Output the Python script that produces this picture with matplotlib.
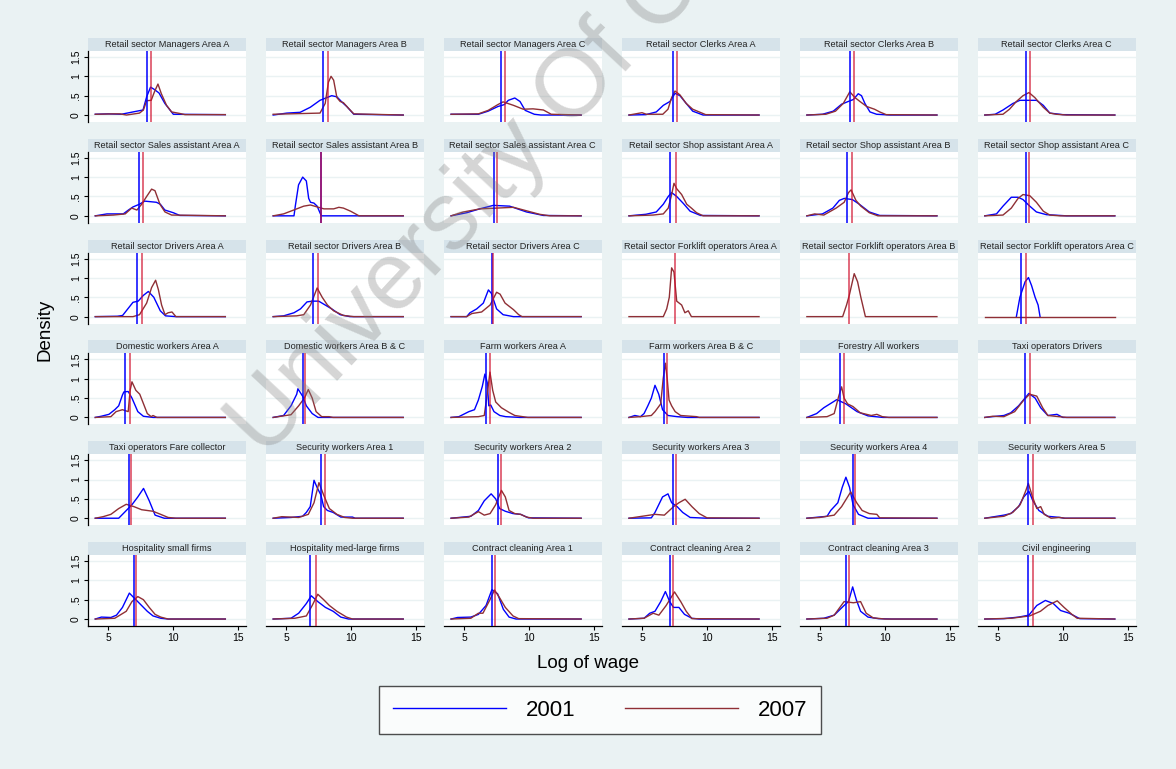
import matplotlib
matplotlib.use("Agg")
import matplotlib.pyplot as plt
from matplotlib.patches import Rectangle
from matplotlib.lines import Line2D

plt.rcParams['font.family'] = ['Liberation Sans', 'DejaVu Sans']

titles = [
    "Retail sector Managers Area A", "Retail sector Managers Area B", "Retail sector Managers Area C",
    "Retail sector Clerks Area A", "Retail sector Clerks Area B", "Retail sector Clerks Area C",
    "Retail sector Sales assistant Area A", "Retail sector Sales assistant Area B",
    "Retail sector Sales assistant Area C", "Retail sector Shop assistant Area A",
    "Retail sector Shop assistant Area B", "Retail sector Shop assistant Area C",
    "Retail sector Drivers Area A", "Retail sector Drivers Area B", "Retail sector Drivers Area C",
    "Retail sector Forklift operators Area A", "Retail sector Forklift operators Area B",
    "Retail sector Forklift operators Area C",
    "Domestic workers Area A", "Domestic workers Area B & C", "Farm workers Area A",
    "Farm workers Area B & C", "Forestry All workers", "Taxi operators Drivers",
    "Taxi operators Fare collector", "Security workers Area 1", "Security workers Area 2",
    "Security workers Area 3", "Security workers Area 4", "Security workers Area 5",
    "Hospitality small firms", "Hospitality med-large firms", "Contract cleaning Area 1",
    "Contract cleaning Area 2", "Contract cleaning Area 3", "Civil engineering",
]

# mean log wage lines (None = no line)
mean_2001 = [8.0, 7.82, 7.82, 7.41, 7.31, 7.2,
             7.38, 7.67, 7.33, 7.18, 7.05, 7.2,
             7.18, 7.1, 7.13, None, None, 6.82,
             6.32, 6.26, 6.69, 6.71, 6.58, 7.08,
             6.62, 7.64, 7.58, 7.36, 7.58, 7.34,
             6.97, 6.84, 7.14, 7.14, 7.0, 7.34]
mean_2007 = [8.25, 8.18, 8.18, 7.67, 7.62, 7.5,
             7.69, 7.67, 7.56, 7.59, 7.44, 7.4,
             7.57, 7.44, 7.25, 7.54, 7.23, 7.15,
             6.68, 6.46, 6.99, 6.94, 6.87, 7.45,
             6.77, 8.02, 7.81, 7.64, 7.72, 7.68,
             7.12, 7.28, 7.37, 7.42, 7.24, 7.68]

# kernel density curves, (log wage, density)
dens_2001 = [
    [(4, 0.02), (5, 0.03), (6, 0.02), (6.9, 0.08), (7.67, 0.13), (7.95, 0.47), (8.25, 0.72), (8.5, 0.67), (8.9, 0.57), (9.35, 0.3), (10, 0.02), (14, 0.01)],
    [(4, 0), (5.05, 0.05), (6.07, 0.07), (6.85, 0.2), (7.6, 0.38), (8.5, 0.5), (8.9, 0.47), (9.3, 0.33), (9.66, 0.22), (10.2, 0.02), (14, 0)],
    [(4, 0.02), (6.1, 0.02), (6.85, 0.1), (7.6, 0.22), (8.1, 0.27), (8.4, 0.38), (8.9, 0.44), (9.3, 0.35), (9.7, 0.12), (10.4, 0.02), (10.9, 0), (14, 0)],
    [(4, 0), (5.3, 0.01), (6.1, 0.08), (6.64, 0.25), (7.15, 0.35), (7.54, 0.56), (7.92, 0.5), (8.4, 0.3), (8.9, 0.1), (9.7, 0), (14, 0)],
    [(4, 0), (5.2, 0.02), (6.03, 0.1), (6.67, 0.28), (7.18, 0.35), (7.57, 0.4), (7.95, 0.55), (8.2, 0.5), (8.46, 0.3), (8.85, 0.08), (9.36, 0.02), (10.4, 0), (14, 0)],
    [(4, 0), (4.8, 0.02), (5.4, 0.13), (6.17, 0.3), (6.7, 0.38), (7.98, 0.38), (8.5, 0.25), (9, 0.05), (10, 0.01), (14, 0)],
    [(4, 0), (4.9, 0.05), (6.15, 0.05), (6.55, 0.15), (6.9, 0.23), (7.4, 0.3), (7.8, 0.38), (8.7, 0.35), (9, 0.3), (9.35, 0.15), (10, 0.08), (10.5, 0.01), (14, 0)],
    [(4, 0), (5.6, 0), (5.7, 0.25), (5.95, 0.8), (6.27, 1.0), (6.55, 0.9), (6.73, 0.45), (6.87, 0.35), (7.13, 0.33), (7.38, 0.25), (7.7, 0), (14, 0)],
    [(4, 0), (5.2, 0.08), (6.2, 0.18), (7.25, 0.27), (8.5, 0.25), (9.8, 0.1), (11.1, 0.01), (14, 0)],
    [(4, 0), (5.3, 0.04), (6.1, 0.1), (6.64, 0.3), (7.02, 0.5), (7.28, 0.6), (7.67, 0.5), (8.18, 0.32), (8.7, 0.12), (9.5, 0.01), (14, 0)],
    [(4, 0), (5.2, 0.05), (6, 0.2), (6.5, 0.4), (6.87, 0.45), (7.5, 0.42), (8.03, 0.3), (8.8, 0.1), (9.6, 0.01), (14, 0)],
    [(4, 0), (4.9, 0.05), (5.4, 0.25), (6.04, 0.48), (6.56, 0.48), (6.94, 0.42), (7.46, 0.25), (7.97, 0.1), (8.74, 0.03), (10.3, 0), (14, 0)],
    [(4, 0), (5.7, 0.01), (6.1, 0.03), (6.5, 0.2), (6.9, 0.37), (7.3, 0.4), (7.7, 0.55), (8.08, 0.65), (8.5, 0.5), (9, 0.15), (9.4, 0.02), (10.2, 0), (14, 0)],
    [(4, 0), (4.8, 0.02), (5.6, 0.1), (6.1, 0.2), (6.6, 0.38), (7, 0.4), (7.5, 0.4), (8, 0.3), (8.5, 0.2), (9.15, 0.05), (9.9, 0), (14, 0)],
    [(4, 0), (5.2, 0), (5.45, 0.1), (5.97, 0.2), (6.48, 0.35), (6.87, 0.69), (7.1, 0.6), (7.5, 0.2), (8, 0.05), (8.8, 0), (14, 0)],
    None,
    None,
    [(6.43, 0), (6.7, 0.5), (7.1, 0.9), (7.36, 1.01), (7.6, 0.8), (7.87, 0.5), (8.1, 0.3), (8.25, 0)],
    [(4, 0), (4.45, 0.03), (5.05, 0.08), (5.5, 0.2), (5.8, 0.3), (6.09, 0.58), (6.2, 0.66), (6.53, 0.67), (6.82, 0.5), (7.27, 0.15), (7.7, 0.03), (8.45, 0), (14, 0)],
    [(4, 0), (4.8, 0.05), (5.37, 0.3), (5.81, 0.6), (5.9, 0.74), (6.26, 0.55), (6.55, 0.3), (7, 0.1), (7.45, 0), (14, 0)],
    [(4, 0), (4.6, 0.02), (5.37, 0.15), (5.8, 0.2), (6.1, 0.45), (6.4, 0.8), (6.6, 1.12), (6.78, 0.9), (6.9, 0.3), (7.05, 0.32), (7.3, 0.15), (7.75, 0.05), (8.2, 0.02), (9.3, 0), (14, 0)],
    [(4, 0), (4.45, 0.05), (4.88, 0.02), (5.16, 0.1), (5.45, 0.3), (5.72, 0.5), (6, 0.83), (6.29, 0.6), (6.58, 0.2), (7, 0.05), (7.7, 0.02), (8.5, 0), (14, 0)],
    [(4, 0), (4.75, 0.1), (5.3, 0.25), (6.3, 0.46), (7, 0.35), (7.86, 0.15), (8.7, 0.04), (9.85, 0), (14, 0)],
    [(4, 0), (5.47, 0.05), (6, 0.12), (6.6, 0.3), (7.39, 0.62), (7.87, 0.5), (8.3, 0.25), (8.85, 0.05), (9.55, 0.08), (10, 0), (14, 0)],
    [(4, 0), (5.8, 0), (6.24, 0.15), (6.82, 0.35), (7.27, 0.55), (7.71, 0.77), (8.15, 0.45), (8.6, 0.08), (9.3, 0), (14, 0)],
    [(4, 0), (5.37, 0.02), (6.26, 0.05), (6.55, 0.15), (6.85, 0.3), (7.14, 0.98), (7.37, 0.8), (7.67, 0.6), (7.88, 0.3), (8.17, 0.2), (8.61, 0.15), (9.2, 0.03), (10.1, 0.03), (10.3, 0), (14, 0)],
    [(4, 0), (5.52, 0.05), (6.1, 0.2), (6.55, 0.45), (7.08, 0.63), (7.43, 0.5), (7.73, 0.25), (8.17, 0.18), (8.76, 0.12), (9.35, 0.1), (9.95, 0.01), (14, 0)],
    [(4, 0), (5.72, 0.01), (6, 0.15), (6.29, 0.35), (6.58, 0.55), (7, 0.63), (7.28, 0.4), (7.7, 0.3), (8.13, 0.15), (8.7, 0.02), (10, 0), (14, 0)],
    [(4, 0), (5.55, 0.05), (5.83, 0.2), (6.38, 0.4), (6.72, 0.8), (7, 1.06), (7.28, 0.8), (7.55, 0.35), (7.97, 0.1), (8.7, 0), (14, 0)],
    [(4, 0), (5.47, 0.08), (6, 0.12), (6.6, 0.3), (7, 0.55), (7.39, 0.7), (7.7, 0.45), (8.16, 0.2), (8.85, 0.05), (9.8, 0.02), (10.1, 0), (14, 0)],
    [(4, 0), (4.47, 0.05), (5.2, 0.04), (5.63, 0.1), (6.09, 0.3), (6.62, 0.67), (6.97, 0.55), (7.56, 0.35), (8, 0.2), (8.44, 0.08), (9.03, 0.02), (9.6, 0), (14, 0)],
    [(4, 0), (5.37, 0.02), (5.96, 0.15), (6.55, 0.4), (6.93, 0.6), (7.43, 0.45), (8.02, 0.3), (8.61, 0.2), (9.2, 0.05), (9.8, 0), (14, 0)],
    [(4, 0), (4.5, 0.04), (5.52, 0.05), (6.1, 0.12), (6.69, 0.35), (7.14, 0.76), (7.58, 0.65), (8.02, 0.25), (8.46, 0.05), (9, 0), (14, 0)],
    [(4, 0), (5.16, 0.02), (5.6, 0.15), (6, 0.2), (6.44, 0.45), (6.8, 0.71), (7.13, 0.45), (7.42, 0.3), (7.84, 0.3), (8.27, 0.12), (8.84, 0.02), (9.4, 0), (14, 0)],
    [(4, 0), (5.3, 0.02), (6.1, 0.1), (6.86, 0.35), (7.2, 0.45), (7.52, 0.83), (7.8, 0.5), (8.13, 0.2), (8.7, 0.05), (9.5, 0.01), (10.5, 0), (14, 0)],
    [(4, 0), (5.47, 0.01), (6.6, 0.05), (7.39, 0.1), (8, 0.35), (8.66, 0.48), (9.27, 0.4), (9.83, 0.22), (10.5, 0.15), (11.3, 0.01), (14, 0)],
]

dens_2007 = [
    [(4, 0.02), (5.4, 0.03), (5.9, 0.03), (6.4, 0), (7.4, 0.05), (7.7, 0.13), (7.95, 0.37), (8.3, 0.38), (8.55, 0.6), (8.82, 0.8), (9.08, 0.55), (9.48, 0.25), (9.87, 0.08), (10.5, 0.04), (10.9, 0.01), (14, 0.01)],
    [(4, 0.02), (7.6, 0.05), (8, 0.3), (8.25, 0.85), (8.45, 1.0), (8.65, 0.9), (8.9, 0.45), (9.15, 0.35), (9.4, 0.32), (9.8, 0.17), (10.2, 0.03), (14, 0)],
    [(4, 0.02), (6.1, 0.03), (6.85, 0.12), (7.6, 0.27), (8, 0.34), (8.8, 0.25), (9.55, 0.15), (10.3, 0.16), (11.1, 0.13), (11.7, 0.02), (14, 0)],
    [(4, 0), (5, 0.06), (5.34, 0.02), (6.6, 0.02), (7, 0.15), (7.28, 0.45), (7.54, 0.62), (7.92, 0.52), (8.4, 0.3), (8.9, 0.15), (9.4, 0.08), (9.9, 0.01), (14, 0)],
    [(4, 0), (5.46, 0.02), (6.2, 0.1), (6.8, 0.3), (7.3, 0.6), (7.7, 0.45), (8.08, 0.35), (8.6, 0.22), (9.2, 0.15), (9.6, 0.08), (10.1, 0.01), (14, 0)],
    [(4, 0), (5.4, 0.02), (5.9, 0.15), (6.43, 0.35), (6.94, 0.5), (7.4, 0.58), (7.85, 0.45), (8.5, 0.2), (9, 0.05), (9.5, 0.02), (10.3, 0), (14, 0)],
    [(4, 0), (5.4, 0.02), (6.3, 0.05), (6.8, 0.2), (7.2, 0.15), (7.57, 0.3), (7.95, 0.5), (8.33, 0.69), (8.59, 0.65), (8.97, 0.3), (9.36, 0.1), (9.87, 0.02), (14, 0)],
    [(4, 0), (4.8, 0.05), (5.58, 0.15), (6.35, 0.25), (6.87, 0.28), (7.38, 0.23), (7.9, 0.18), (8.65, 0.18), (9.05, 0.22), (9.4, 0.2), (9.95, 0.12), (10.6, 0), (14, 0)],
    [(4, 0), (4.95, 0.1), (6.23, 0.18), (7.5, 0.2), (8.8, 0.22), (9.8, 0.13), (10.8, 0.04), (11.6, 0), (14, 0)],
    [(4, 0), (5.85, 0.02), (6.64, 0.05), (7.02, 0.2), (7.28, 0.55), (7.46, 0.84), (7.67, 0.7), (8.05, 0.55), (8.44, 0.3), (8.8, 0.2), (9.2, 0.08), (9.7, 0), (14, 0)],
    [(4, 0), (4.6, 0.05), (5.3, 0.02), (6.25, 0.2), (6.87, 0.35), (7.2, 0.6), (7.4, 0.67), (7.77, 0.4), (8.15, 0.25), (8.8, 0.08), (9.46, 0), (14, 0)],
    [(4, 0), (5.4, 0.02), (6.04, 0.2), (6.56, 0.45), (6.94, 0.55), (7.46, 0.52), (7.97, 0.35), (8.5, 0.12), (9, 0.02), (9.8, 0), (14, 0)],
    [(4, 0), (6.9, 0), (7.4, 0.05), (7.95, 0.35), (8.33, 0.75), (8.64, 0.94), (8.85, 0.7), (9.1, 0.3), (9.36, 0.05), (9.6, 0.1), (9.9, 0.12), (10.2, 0), (14, 0)],
    [(4, 0), (5.8, 0.02), (6.35, 0.05), (6.87, 0.3), (7.38, 0.74), (7.77, 0.5), (8.17, 0.3), (8.65, 0.15), (9.4, 0.03), (10.2, 0), (14, 0)],
    [(4, 0), (5.2, 0), (5.6, 0.08), (6.35, 0.12), (7, 0.3), (7.5, 0.63), (7.77, 0.58), (8.15, 0.35), (8.8, 0.18), (9.2, 0.05), (9.46, 0), (14, 0)],
    [(4, 0), (6.64, 0), (6.9, 0.2), (7.1, 0.5), (7.28, 1.26), (7.46, 1.15), (7.67, 0.4), (8.05, 0.3), (8.3, 0.1), (8.56, 0.15), (8.8, 0), (14, 0)],
    [(4, 0), (6.75, 0), (7.05, 0.3), (7.26, 0.55), (7.64, 1.11), (7.9, 0.9), (8.15, 0.5), (8.5, 0), (14, 0)],
    [(4, 0), (14, 0)],
    [(4, 0), (5.2, 0.02), (5.6, 0.15), (6.09, 0.2), (6.53, 0.15), (6.68, 0.7), (6.82, 0.92), (7.12, 0.7), (7.42, 0.6), (7.71, 0.35), (8, 0.1), (8.3, 0.02), (8.44, 0.05), (8.74, 0), (14, 0)],
    [(4, 0), (5.37, 0.07), (5.96, 0.3), (6.4, 0.5), (6.7, 0.72), (7, 0.5), (7.3, 0.15), (7.73, 0.02), (8.3, 0.02), (8.6, 0), (14, 0)],
    [(4, 0), (6.1, 0.02), (6.55, 0.05), (6.78, 0.6), (6.99, 1.17), (7.2, 0.7), (7.43, 0.4), (7.87, 0.25), (8.46, 0.13), (8.9, 0.05), (9.5, 0.02), (9.9, 0), (14, 0)],
    [(4, 0), (4.88, 0.02), (5.72, 0.05), (6, 0.15), (6.44, 0.35), (6.63, 1.0), (6.8, 1.4), (6.94, 1.0), (7.08, 0.45), (7.28, 0.3), (7.55, 0.15), (7.97, 0.05), (9.2, 0.02), (9.4, 0), (14, 0)],
    [(4, 0), (5.55, 0.02), (6.1, 0.1), (6.45, 0.55), (6.67, 0.79), (6.86, 0.5), (7.13, 0.35), (7.55, 0.28), (8.1, 0.12), (8.95, 0.05), (9.38, 0.08), (9.8, 0.02), (10.3, 0), (14, 0)],
    [(4, 0), (4.6, 0.03), (5.47, 0.02), (6.3, 0.15), (7, 0.45), (7.45, 0.6), (8, 0.55), (8.45, 0.25), (8.85, 0.05), (9.7, 0.02), (10.3, 0), (14, 0)],
    [(4, 0), (4.6, 0.04), (5.2, 0.1), (5.8, 0.25), (6.38, 0.36), (6.97, 0.3), (7.56, 0.22), (8.44, 0.18), (9.03, 0.1), (9.6, 0.02), (10.2, 0), (14, 0)],
    [(4, 0), (4.66, 0.04), (5.96, 0.02), (6.7, 0.1), (7.14, 0.4), (7.52, 0.92), (7.88, 0.6), (8.32, 0.25), (8.9, 0.1), (9.5, 0.02), (10.1, 0), (14, 0)],
    [(4, 0), (5.37, 0.03), (6.1, 0.17), (6.55, 0.08), (7, 0.12), (7.43, 0.35), (7.87, 0.72), (8.17, 0.55), (8.46, 0.2), (8.9, 0.12), (9.35, 0.1), (9.8, 0.03), (10.3, 0), (14, 0)],
    [(4, 0), (5, 0.05), (6, 0.1), (6.72, 0.08), (7.43, 0.3), (7.84, 0.4), (8.32, 0.49), (8.84, 0.3), (9.4, 0.12), (10, 0.01), (14, 0)],
    [(4, 0), (5, 0.02), (6.1, 0.08), (6.67, 0.3), (7.37, 0.68), (7.83, 0.4), (8.25, 0.2), (8.8, 0.12), (9.38, 0.1), (9.6, 0.01), (14, 0)],
    [(4, 0), (5.47, 0.05), (6.15, 0.15), (6.72, 0.35), (7.14, 0.7), (7.35, 0.9), (7.67, 0.55), (8, 0.25), (8.3, 0.3), (8.57, 0.1), (9.1, 0), (9.7, 0.02), (10.2, 0), (14, 0)],
    [(4, 0), (5.5, 0.02), (6.38, 0.2), (6.82, 0.45), (7.27, 0.58), (7.7, 0.5), (8.15, 0.3), (8.6, 0.12), (9.03, 0.05), (9.6, 0), (14, 0)],
    [(4, 0), (5.67, 0.02), (6.55, 0.08), (7, 0.35), (7.43, 0.64), (7.88, 0.5), (8.32, 0.35), (8.9, 0.2), (9.64, 0.05), (10.1, 0), (14, 0)],
    [(4, 0), (5.52, 0.02), (6.1, 0.15), (6.45, 0.15), (6.99, 0.5), (7.34, 0.75), (7.73, 0.55), (8.17, 0.3), (8.76, 0.08), (9.2, 0.01), (14, 0)],
    [(4, 0), (5.16, 0.02), (5.86, 0.15), (6.3, 0.1), (6.86, 0.35), (7.5, 0.7), (7.98, 0.45), (8.4, 0.2), (8.84, 0.01), (14, 0)],
    [(4, 0), (5.55, 0.02), (6.1, 0.1), (6.86, 0.45), (7.58, 0.42), (8.13, 0.45), (8.56, 0.15), (9.1, 0.03), (10, 0), (14, 0)],
    [(4, 0), (6.05, 0.02), (7.45, 0.08), (8.28, 0.2), (8.85, 0.35), (9.57, 0.47), (10.1, 0.3), (10.7, 0.12), (11.1, 0.02), (14, 0)],
]

years = ["2001", "2007"]
x_ticks = [5, 10, 15]
y_ticks = [0, 0.5, 1, 1.5]
y_tick_labels = ["0", ".5", "1", "1.5"]

BG = "#EAF2F3"
STRIP = "#D6E3EA"
BLUE = "#0000FF"
MAROON = "#8F2F35"
RED = "#D0102E"

W, H = 1176, 769
fig = plt.figure(figsize=(W / 100, H / 100), dpi=100, facecolor=BG)

ncol = 6
pw, ph, strip_h = 158, 71, 13
for i, title in enumerate(titles):
    r, c = divmod(i, ncol)
    left = 88 + 177.9 * c
    top = 51 + 100.8 * r
    ax = fig.add_axes([left / W, 1 - (top + ph) / H, pw / W, ph / H])
    ax.set_facecolor("white")
    ax.set_xlim(3.44, 15.59)
    ax.set_ylim(-0.18, 1.654)
    ax.set_yticks(y_ticks)
    ax.set_xticks(x_ticks)
    ax.yaxis.grid(True, color=BG, lw=1.0)
    ax.set_axisbelow(True)
    for s in ax.spines.values():
        s.set_visible(False)

    if c == 0:
        ax.spines["left"].set_visible(True)
        ax.spines["left"].set_linewidth(0.9)
        ax.set_yticklabels(y_tick_labels, rotation=90, va="center", fontsize=7.5)
        ax.tick_params(axis="y", length=3, width=0.8, pad=2)
    else:
        ax.tick_params(axis="y", left=False, labelleft=False)
    if r == 5:
        ax.spines["bottom"].set_visible(True)
        ax.spines["bottom"].set_linewidth(0.9)
        ax.tick_params(axis="x", length=3, width=0.8, labelsize=7.5, pad=2)
    else:
        ax.tick_params(axis="x", bottom=False, labelbottom=False)

    # title strip
    ax.add_patch(Rectangle((0, 1), 1, strip_h / ph, transform=ax.transAxes,
                           facecolor=STRIP, edgecolor="none", clip_on=False))
    ax.text(0.5, 1 + strip_h / ph / 2, title, transform=ax.transAxes,
            ha="center", va="center", fontsize=6.6, color="#222222")

    d1 = dens_2001[i]
    d2 = dens_2007[i]
    if d1 is not None:
        ax.plot([p[0] for p in d1], [p[1] for p in d1], color=BLUE, lw=1.0, zorder=3)
    if d2 is not None:
        ax.plot([p[0] for p in d2], [p[1] for p in d2], color=MAROON, lw=1.0, zorder=3)
    if mean_2001[i] is not None:
        ax.axvline(mean_2001[i], color=BLUE, lw=1.1, zorder=4)
    if mean_2007[i] is not None:
        ax.axvline(mean_2007[i], color=RED, lw=1.1, zorder=4, alpha=0.8)

fig.text(45 / W, 1 - 330 / H, "Density", rotation=90, ha="center", va="center", fontsize=13.5)
fig.text(588 / W, 1 - 663 / H, "Log of wage", ha="center", va="center", fontsize=13.5)

handles = [Line2D([], [], color=BLUE, lw=1.0), Line2D([], [], color=MAROON, lw=1.0)]
leg = fig.legend(handles, years, loc="center", bbox_to_anchor=(600 / W, 1 - 710 / H),
                 ncol=2, fontsize=16, frameon=True, fancybox=False, handlelength=5.1,
                 handletextpad=0.9, columnspacing=2.2, borderpad=0.6)
leg.get_frame().set_edgecolor("#222222")
leg.get_frame().set_linewidth(1.0)

# watermark
fig.text(264 / W, 1 - 459 / H, "University Of Cape Town", rotation=47, rotation_mode="anchor",
         ha="left", va="baseline", fontsize=69, color="#808080", alpha=0.33, zorder=10)

fig.savefig("out.png", dpi=100, facecolor=BG)
